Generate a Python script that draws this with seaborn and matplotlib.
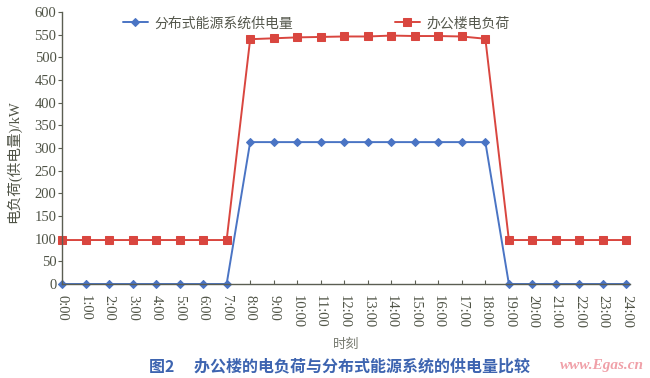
import matplotlib
matplotlib.use("Agg")
import matplotlib.pyplot as plt
import seaborn as sns
import pandas as pd

# Hourly data for the office building
hours = list(range(25))
hour_labels = [f"{h}:00" for h in hours]
supply_kw = [0, 0, 0, 0, 0, 0, 0, 0,
             313, 313, 313, 313, 313, 313, 313, 313, 313, 313, 313,
             0, 0, 0, 0, 0, 0]
load_kw = [97, 97, 97, 97, 97, 97, 97, 97,
           540, 542, 544, 545, 546, 546, 548, 547, 547, 546, 541,
           97, 97, 97, 97, 97, 97]

supply_name = "分布式能源系统供电量"
load_name = "办公楼电负荷"

sns.set_theme(style="white")
plt.rcParams["font.family"] = ["Liberation Serif", "Noto Sans CJK SC", "DejaVu Sans"]

axis_col = "#5b5e52"
text_col = "#4f5346"
blue = "#4a74c4"
red = "#d9463f"

df = pd.DataFrame({"hour": hours, "supply": supply_kw, "load": load_kw})

fig = plt.figure(figsize=(6.5, 3.78), dpi=100)
ax = fig.add_axes([62 / 650, 1 - 284 / 378, (630 - 62) / 650, (284 - 12) / 378])

sns.lineplot(data=df, x="hour", y="supply", ax=ax, color=blue, marker="D",
             markersize=4.5, markeredgecolor=blue, linewidth=1.4, label=supply_name)
sns.lineplot(data=df, x="hour", y="load", ax=ax, color=red, marker="s",
             markersize=5.8, markeredgecolor=red, linewidth=1.4, label=load_name)

ax.set_xlim(0, 24.15)
ax.set_ylim(0, 600)
ax.set_yticks(range(0, 601, 50))
ax.set_xticks(hours)
ax.set_xticklabels(hour_labels, rotation=-90, va="top", ha="center")
for lbl in ax.get_yticklabels() + ax.get_xticklabels():
    lbl.set_fontsize(10.5)
    lbl.set_color(text_col)

ax.tick_params(axis="y", direction="out", length=3, width=0.8, colors=axis_col,
               labelcolor=text_col, left=True, pad=1)
ax.tick_params(axis="x", direction="in", length=3, width=0.8, colors=axis_col,
               labelcolor=text_col, bottom=True, pad=8)

sns.despine(ax=ax, top=True, right=True)
for side in ("left", "bottom"):
    ax.spines[side].set_color(axis_col)
    ax.spines[side].set_linewidth(1.0)
for line in ax.lines:
    line.set_clip_on(False)

ax.set_xlabel("时刻", fontsize=9.5, color="#777a70", family=["Noto Sans CJK SC"])
ax.xaxis.set_label_coords(0.5, -0.2)
ax.set_ylabel("电负荷(供电量)/kW", fontsize=10.5, color=text_col,
              family=["Liberation Serif", "Noto Sans CJK SC"])
ax.yaxis.set_label_coords(-0.072, 0.45)

leg = ax.legend(loc="upper left", bbox_to_anchor=(0.085, 1.03), ncol=2, frameon=False,
                handlelength=1.8, columnspacing=7.3, handletextpad=0.5,
                prop={"family": ["Noto Sans CJK SC"], "size": 10})
for t in leg.get_texts():
    t.set_color("#55584d")

fig.text(0.523, 1 - 366 / 378, "图2　 办公楼的电负荷与分布式能源系统的供电量比较",
         ha="center", va="center", fontsize=11.5, color="#3d64b0",
         family=["Noto Sans CJK SC"], fontweight="bold")
fig.text(0.99, 1 - 366 / 378, "www.Egas.cn", ha="right", va="center",
         fontsize=11, color="#f0a0a8", style="italic", fontweight="bold",
         family=["Liberation Serif"])

fig.savefig("out.png", dpi=100)
